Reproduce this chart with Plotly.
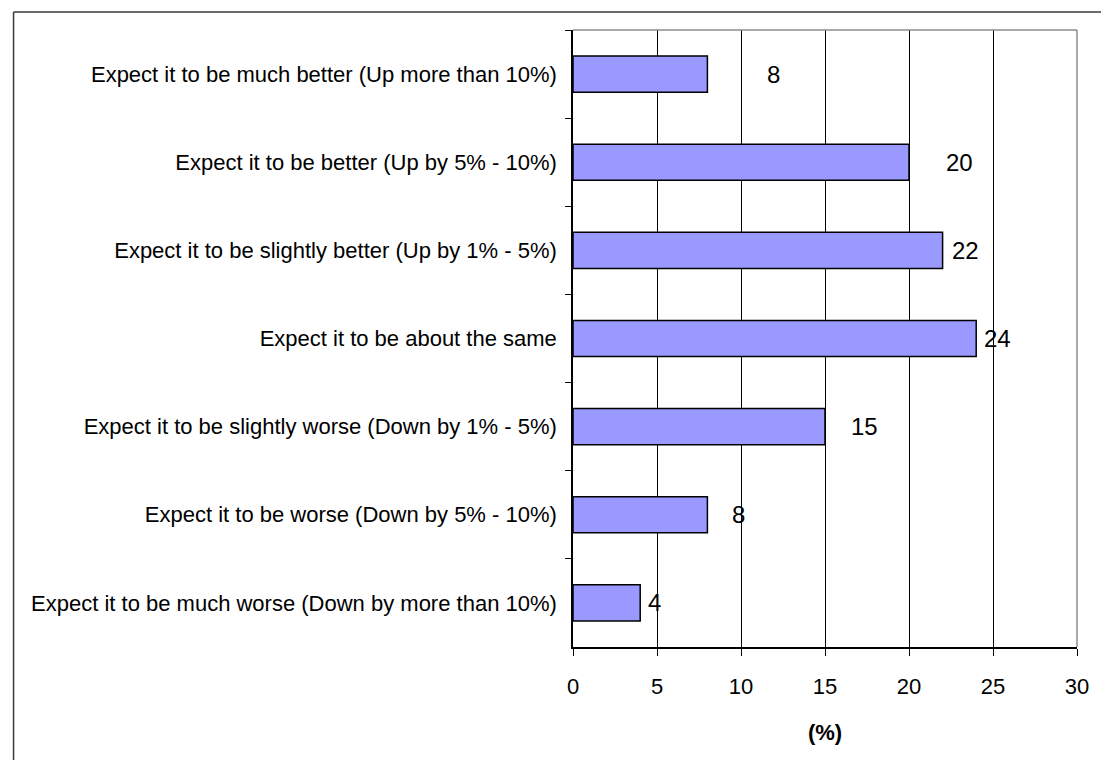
import plotly.graph_objects as go

categories = [
    "Expect it to be much better (Up more than 10%)",
    "Expect it to be better (Up by 5% - 10%)",
    "Expect it to be slightly better (Up by 1% - 5%)",
    "Expect it to be about the same",
    "Expect it to be slightly worse (Down by 1% - 5%)",
    "Expect it to be worse (Down by 5% - 10%)",
    "Expect it to be much worse (Down by more than 10%)",
]
values = [8, 20, 22, 24, 15, 8, 4]
x_ticks = [0, 5, 10, 15, 20, 25, 30]
x_title = "<b>(%)</b>"

# label horizontal pixel offsets from the bar end (style only)
label_shift_px = [58, 35, 7, 6, 24, 23, 6]

FONT = "Liberation Sans, Arial, sans-serif"

fig = go.Figure()
fig.add_trace(go.Bar(
    y=categories,
    x=values,
    orientation="h",
    marker=dict(color="#9999FF", line=dict(color="#000000", width=1.5)),
    hoverinfo="x+y",
))

for cat, v, sh in zip(categories, values, label_shift_px):
    fig.add_annotation(
        x=v, y=cat, xref="x", yref="y",
        text=str(v), showarrow=False,
        xanchor="left", yanchor="middle", xshift=sh,
        font=dict(family=FONT, size=24, color="#000000"),
    )

L, R, T, B = 573, 1082, 30, 647
W, H = 1101, 760

# outer frame (extends beyond page on right/bottom)
px = lambda x: (x - L) / (R - L)
py = lambda y: (B - y) / (B - T)
fig.add_shape(type="line", xref="paper", yref="paper",
              x0=px(8), x1=px(1200), y0=py(12), y1=py(12),
              line=dict(color="#3a3a3a", width=1.5))
fig.add_shape(type="line", xref="paper", yref="paper",
              x0=px(8), x1=px(8), y0=py(12), y1=py(900),
              line=dict(color="#3a3a3a", width=1.5))
# plot area top/right border in gray
fig.add_shape(type="line", xref="paper", yref="paper",
              x0=0, x1=1, y0=1, y1=1, line=dict(color="#8c8c8c", width=1.5))
fig.add_shape(type="line", xref="paper", yref="paper",
              x0=1, x1=1, y0=0, y1=1, line=dict(color="#8c8c8c", width=1.5))

fig.update_layout(
    width=W, height=H,
    margin=dict(l=L, r=W - R, t=T, b=H - B, pad=0),
    paper_bgcolor="white", plot_bgcolor="white",
    showlegend=False,
    bargap=0.59,
    font=dict(family=FONT, color="#000000"),
)
fig.update_xaxes(
    range=[0, 30], tickvals=x_ticks, ticktext=[str(t) for t in x_ticks],
    showgrid=True, gridcolor="#000000", gridwidth=1,
    zeroline=False, showline=True, linecolor="#000000", linewidth=1.5,
    ticks="outside", ticklen=7, tickcolor="#000000", tickwidth=1,
    ticklabelstandoff=12,
    tickfont=dict(family=FONT, size=22, color="#000000"),
    title=dict(text=x_title, font=dict(family=FONT, size=22, color="#000000"), standoff=26),
)
fig.update_yaxes(
    categoryorder="array", categoryarray=categories, autorange="reversed",
    showgrid=False, zeroline=False,
    showline=True, linecolor="#000000", linewidth=1.5,
    ticks="outside", ticklen=6, tickcolor="#000000", tickwidth=1,
    tickson="boundaries", ticklabelstandoff=10,
    tickfont=dict(family=FONT, size=22, color="#000000"),
)

fig.write_html("out.html")
